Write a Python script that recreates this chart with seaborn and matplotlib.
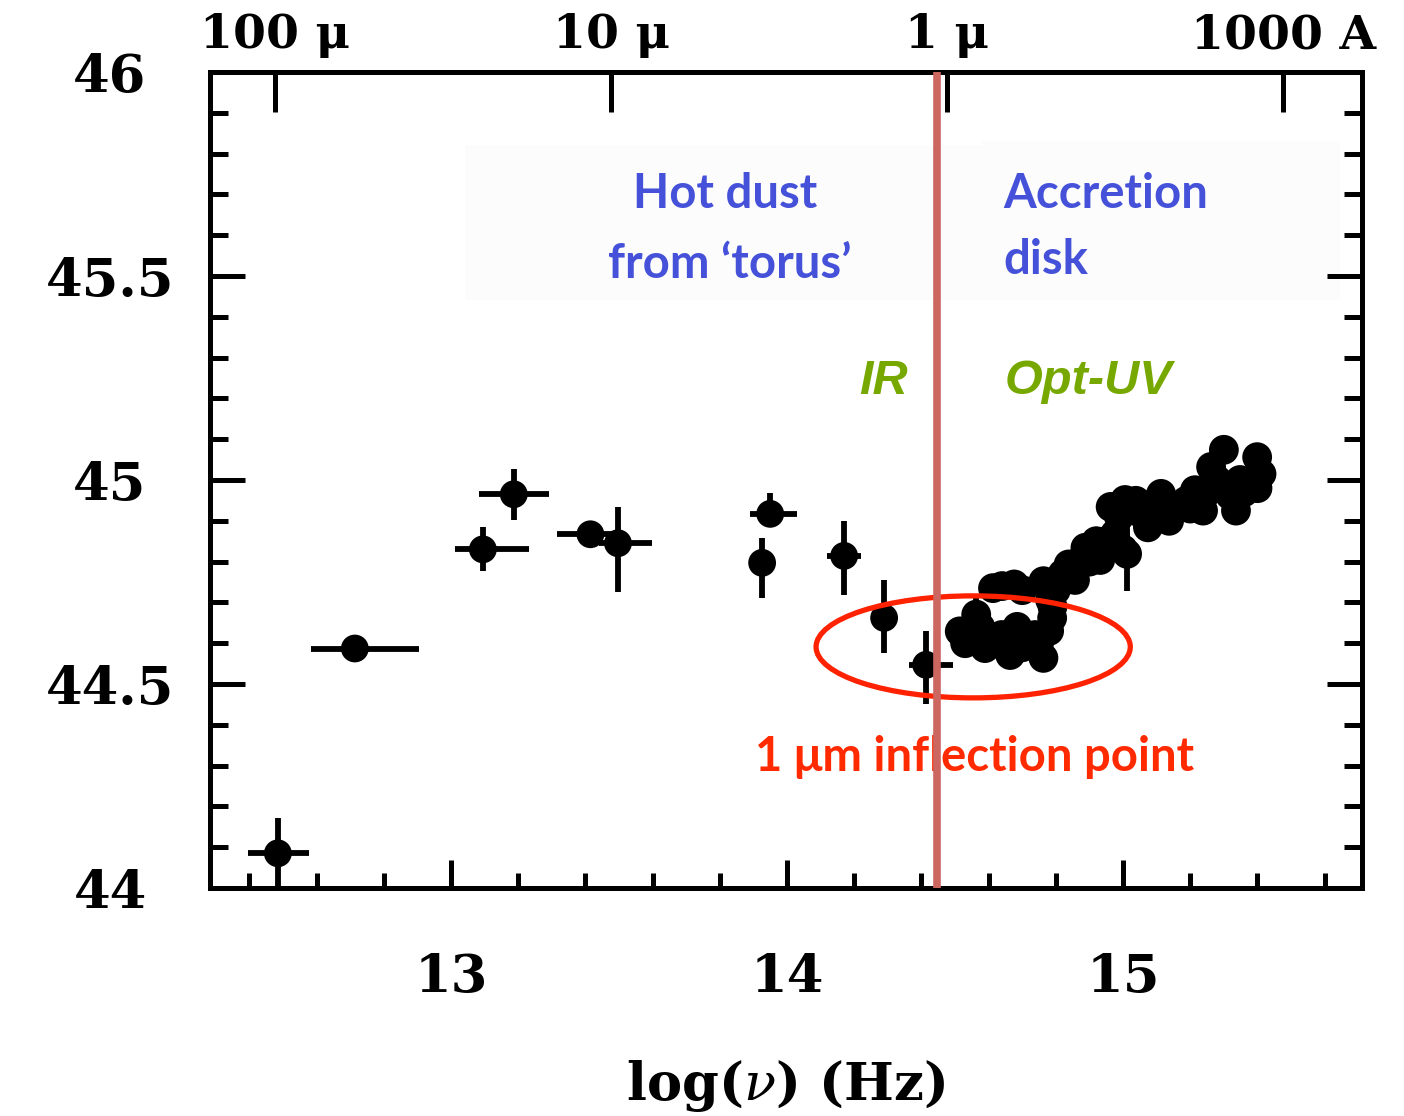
import numpy as np
import pandas as pd
import matplotlib
matplotlib.use("Agg")
import matplotlib.pyplot as plt
import seaborn as sns
from matplotlib.patches import Ellipse, Rectangle
from matplotlib.ticker import MultipleLocator, FixedLocator

# ---------------- data ----------------
# isolated IR photometry points: log(nu), log(nu L_nu), asymmetric errors
ir_lognu = [12.485, 12.714, 13.095, 13.187, 13.415, 13.497, 13.950, 13.926, 14.170, 14.289, 14.414]
ir_logL = [44.085, 44.587, 44.830, 44.965, 44.867, 44.845, 44.917, 44.797, 44.814, 44.662, 44.547]
ir_xlo = [0.090, 0.131, 0.082, 0.104, 0.100, 0.056, 0.060, 0.020, 0.050, 0.020, 0.050]
ir_xhi = [0.092, 0.190, 0.137, 0.104, 0.080, 0.100, 0.080, 0.020, 0.050, 0.020, 0.080]
ir_ylo = [0.080, 0.020, 0.054, 0.064, 0.020, 0.120, 0.030, 0.086, 0.095, 0.086, 0.095]
ir_yhi = [0.086, 0.020, 0.054, 0.062, 0.020, 0.090, 0.050, 0.060, 0.086, 0.094, 0.082]

# dense optical/UV spectrophotometry
uv_lognu = [14.514, 14.563, 14.589, 14.639, 14.664, 14.738, 14.763, 14.789, 14.613, 14.676,
            14.763, 14.838, 14.888, 14.949, 15.012, 14.976, 14.963, 15.038, 15.113, 15.188,
            15.238, 15.262, 15.300, 15.336, 15.387, 15.412, 15.399, 15.137, 15.074, 14.988,
            14.783, 14.857, 14.932, 15.170, 15.214, 15.348, 15.318, 15.080, 15.006, 14.700,
            14.620, 14.540, 14.530, 14.600, 14.650, 14.700, 14.720, 14.750, 14.780, 14.790,
            14.800, 14.820, 14.870, 14.900, 14.920, 15.000, 15.020, 15.050, 15.100, 15.150,
            15.200, 15.250, 15.280, 15.360, 15.400, 14.640, 14.700, 14.575, 14.685]
uv_logL = [44.629, 44.670, 44.588, 44.620, 44.571, 44.620, 44.564, 44.662, 44.735, 44.744,
           44.752, 44.793, 44.834, 44.850, 44.819, 44.868, 44.934, 44.949, 44.966, 44.949,
           44.925, 45.032, 45.074, 44.925, 44.990, 45.015, 45.056, 44.900, 44.884, 44.909,
           44.706, 44.755, 44.804, 44.939, 44.975, 45.000, 44.963, 44.939, 44.951, 44.600,
           44.600, 44.610, 44.600, 44.600, 44.600, 44.590, 44.600, 44.600, 44.630, 44.690,
           44.730, 44.770, 44.800, 44.800, 44.850, 44.830, 44.930, 44.920, 44.940, 44.930,
           44.930, 44.970, 45.000, 44.970, 44.980, 44.740, 44.730, 44.640, 44.640]
uv_yerr = [0.02, 0.04, 0.02, 0.02, 0.02, 0.02, 0.02, 0.03, 0.02, 0.02,
           0.02, 0.02, 0.02, 0.02, 0.09, 0.02, 0.02, 0.02, 0.02, 0.02,
           0.02, 0.03, 0.035, 0.02, 0.02, 0.02, 0.03, 0.02, 0.02, 0.02,
           0.02, 0.02, 0.02, 0.02, 0.02, 0.02, 0.02, 0.02, 0.02, 0.02,
           0.02, 0.02, 0.02, 0.02, 0.02, 0.02, 0.02, 0.02, 0.02, 0.02,
           0.02, 0.02, 0.02, 0.02, 0.02, 0.02, 0.02, 0.02, 0.02, 0.02,
           0.02, 0.02, 0.02, 0.02, 0.02, 0.02, 0.02, 0.02, 0.02]

y_major = [44.0, 44.5, 45.0, 45.5, 46.0]
y_major_labels = ["44", "44.5", "45", "45.5", "46"]
x_major = [13, 14, 15]
x_major_labels = ["13", "14", "15"]
top_pos = [12.477, 13.477, 14.477, 15.477]          # 100 um, 10 um, 1 um, 1000 A
top_labels = ["100 μ", "10 μ", "1 μ", "1000 A"]

one_micron = 14.446

# ---------------- figure ----------------
sns.set_theme(style="white")
plt.rcParams["font.family"] = ["DejaVu Serif", "DejaVu Sans"]
plt.rcParams["mathtext.fontset"] = "dejavuserif"
for k in ["text.color", "axes.labelcolor", "xtick.color", "ytick.color", "axes.edgecolor"]:
    plt.rcParams[k] = "black"

fig = plt.figure(figsize=(14.04, 11.16), dpi=100)
ax = fig.add_axes([210 / 1404, 1 - 888 / 1116, (1362 - 210) / 1404, (888 - 72) / 1116])
ax.set_xlim(12.283, 15.711)
ax.set_ylim(44.0, 46.0)

# faint background panels behind labels
ax.add_patch(Rectangle((13.042, 45.44), 1.547, 0.38, facecolor="#fcfcfc",
                       edgecolor="none", zorder=0))
ax.add_patch(Rectangle((14.580, 45.44), 1.066, 0.39, facecolor="#fcfcfc",
                       edgecolor="none", zorder=0))

ir = pd.DataFrame({"lognu": ir_lognu, "logL": ir_logL})
uv = pd.DataFrame({"lognu": uv_lognu, "logL": uv_logL})

ax.errorbar(ir_lognu, ir_logL, xerr=[ir_xlo, ir_xhi], yerr=[ir_ylo, ir_yhi],
            fmt="none", ecolor="black", elinewidth=4.2, capsize=0, zorder=2)
ax.errorbar(uv_lognu, uv_logL, yerr=uv_yerr, xerr=0.02,
            fmt="none", ecolor="black", elinewidth=4.2, capsize=0, zorder=2)
sns.scatterplot(data=ir, x="lognu", y="logL", ax=ax, color="black", s=400,
                edgecolor="none", zorder=3, legend=False)
sns.scatterplot(data=uv, x="lognu", y="logL", ax=ax, color="black", s=460,
                edgecolor="none", zorder=3, legend=False)

# annotations
ax.axvline(one_micron, ymin=0, ymax=1, color="#cc6660", lw=5.5, zorder=6)
ax.add_patch(Ellipse((14.554, 44.591), width=0.935, height=0.25, fill=False,
                     edgecolor="#ff2200", lw=3.8, zorder=5))

blue = "#4451d8"
green = "#77a800"
red = "#ff2a00"
lab = dict(family=["Lato", "DejaVu Sans"], weight="bold", fontsize=34)
ax.text(13.815, 45.700, "Hot dust", color=blue, ha="center", va="center", **lab)
ax.text(13.830, 45.530, "from ‘torus’", color=blue, ha="center", va="center", **lab)
ax.text(14.643, 45.700, "Accretion", color=blue, ha="left", va="center", **lab)
ax.text(14.643, 45.540, "disk", color=blue, ha="left", va="center", **lab)
ital = dict(family=["Liberation Sans", "DejaVu Sans"], weight="bold", style="italic", fontsize=35)
ax.text(14.360, 45.242, "IR", color=green, ha="right", va="center", **ital)
ax.text(14.649, 45.242, "Opt-UV", color=green, ha="left", va="center", **ital)
ax.text(14.558, 44.322, "1 μm inflection point", color=red, ha="center", va="center",
        zorder=4, family=["Lato", "DejaVu Sans"], weight="bold", fontsize=34)

# axes styling
for sp in ax.spines.values():
    sp.set_linewidth(3.6)
    sp.set_color("black")

ax.yaxis.set_major_locator(FixedLocator(y_major))
ax.set_yticklabels(y_major_labels)
ax.yaxis.set_minor_locator(MultipleLocator(0.1))
ax.xaxis.set_major_locator(FixedLocator(x_major))
ax.set_xticklabels(x_major_labels)
ax.xaxis.set_minor_locator(MultipleLocator(0.2))

ax.tick_params(axis="y", which="major", direction="in", length=25, width=3.6,
               left=True, right=True, pad=72, labelsize=38)
ax.tick_params(axis="y", which="minor", direction="in", length=13, width=3.6,
               left=True, right=True)
ax.tick_params(axis="x", which="major", direction="in", length=20, width=3.6,
               bottom=True, top=False, pad=46, labelsize=38)
ax.tick_params(axis="x", which="minor", direction="in", length=11, width=3.6,
               bottom=True, top=False)
for t in ax.get_yticklabels():
    t.set_fontweight("bold")
    t.set_horizontalalignment("center")
for t in ax.get_xticklabels():
    t.set_fontweight("bold")

sec = ax.secondary_xaxis("top")
sec.set_xticks(top_pos)
sec.set_xticklabels(top_labels)
sec.tick_params(axis="x", which="major", direction="in", length=29, width=3.6,
                pad=10, labelsize=34, colors="black")
sec.tick_params(axis="x", which="minor", length=0)
sec.spines["top"].set_linewidth(3.6)
for t in sec.get_xticklabels():
    t.set_fontweight("bold")

ax.set_xlabel(r"log($\nu$) (Hz)", fontsize=38, fontweight="bold", labelpad=40)
ax.set_ylabel("")

fig.savefig("out.png", dpi=100)
